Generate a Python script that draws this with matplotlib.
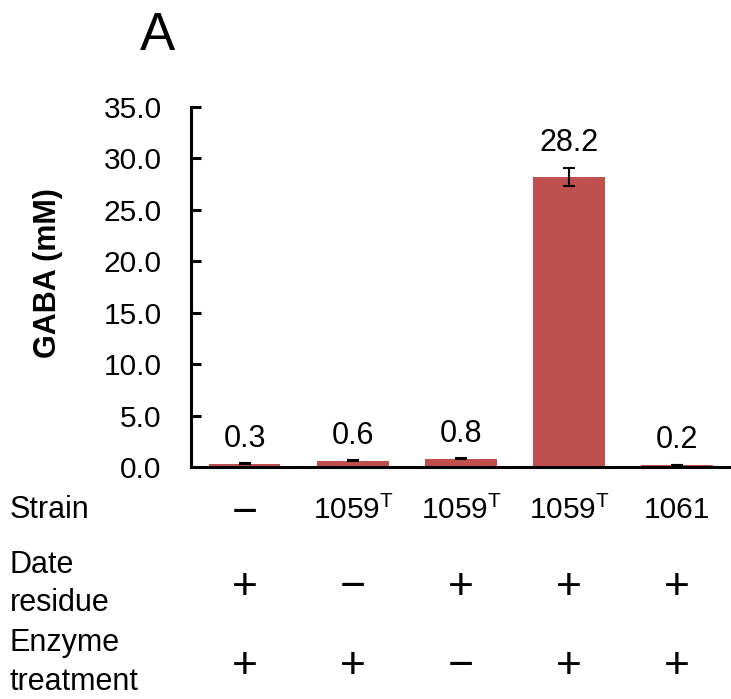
import matplotlib
matplotlib.use("Agg")
import matplotlib.pyplot as plt
import numpy as np

plt.rcParams['font.family'] = ['Liberation Sans', 'DejaVu Sans']
plt.rcParams['mathtext.fontset'] = 'custom'
plt.rcParams['mathtext.rm'] = 'Liberation Sans'
plt.rcParams['mathtext.it'] = 'Liberation Sans'

# data
gaba = [0.3, 0.6, 0.8, 28.2, 0.2]
gaba_err = [0.05, 0.05, 0.05, 0.9, 0.03]
strain = ['\u2014', '1059$^{\\mathrm{T}}$', '1059$^{\\mathrm{T}}$', '1059$^{\\mathrm{T}}$', '1061']
date_residue = ['+', '\u2212', '+', '+', '+']
enzyme = ['+', '+', '\u2212', '+', '+']
yticks = [0, 5, 10, 15, 20, 25, 30, 35]

fig = plt.figure(figsize=(7.31, 6.99), dpi=100)
ax = fig.add_axes([0.261, 0.332, 0.739, 0.515])

x = np.arange(len(gaba))
ax.bar(x, gaba, width=0.66, color='#C0504D', zorder=2)
ax.errorbar(x, gaba, yerr=gaba_err, fmt='none', ecolor='black',
            elinewidth=1.5, capsize=4.5, capthick=1.5, zorder=3)
for xi, v, e in zip(x, gaba, gaba_err):
    ax.annotate('%.1f' % v, (xi, v + e), xytext=(0, 12), textcoords='offset points',
                ha='center', va='baseline', fontsize=22)

ax.set_xlim(-0.5, 4.5)
ax.set_ylim(0, 35)
ax.set_yticks(yticks)
ax.set_yticklabels(['%.1f' % t for t in yticks], fontsize=21.5)
ax.set_xticks([])
ax.tick_params(axis='y', direction='in', length=7, width=2.2, pad=21)
for s in ['top', 'right']:
    ax.spines[s].set_visible(False)
ax.spines['left'].set_linewidth(2.2)
ax.spines['bottom'].set_linewidth(2.2)

fig.text(0.066, 0.61, 'GABA (mM)', rotation=90, fontsize=22, fontweight='bold',
         ha='center', va='center')
fig.text(0.216, 0.948, 'A', fontsize=38, ha='center', va='center')

# condition table below the axis
tr = matplotlib.transforms.blended_transform_factory(ax.transData, fig.transFigure)
fig.text(0.013, 0.27, 'Strain', fontsize=22, va='center')
fig.text(0.013, 0.192, 'Date', fontsize=22, va='center')
fig.text(0.013, 0.137, 'residue', fontsize=22, va='center')
fig.text(0.013, 0.080, 'Enzyme', fontsize=22, va='center')
fig.text(0.013, 0.024, 'treatment', fontsize=22, va='center')
for xi, s, d, e in zip(x, strain, date_residue, enzyme):
    if s.startswith('\u2014'):
        ax.text(xi, 0.266, '\u2212', transform=tr, ha='center', va='center', fontsize=32)
    else:
        ax.text(xi, 0.27, s, transform=tr, ha='center', va='center', fontsize=21.5)
    ax.text(xi, 0.159, d, transform=tr, ha='center', va='center', fontsize=32)
    ax.text(xi, 0.046, e, transform=tr, ha='center', va='center', fontsize=32)

fig.savefig('out.png', dpi=100)
